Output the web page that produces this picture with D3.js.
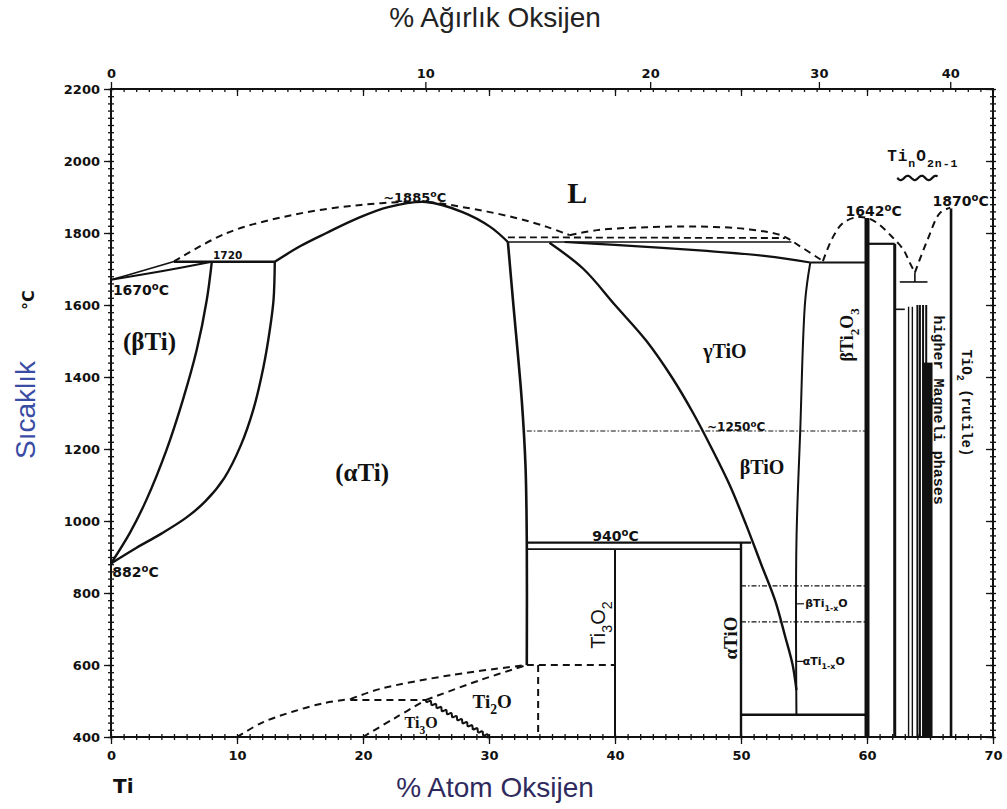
<!DOCTYPE html>
<html>
<head>
<meta charset="utf-8">
<script src="https://cdn.jsdelivr.net/npm/d3@7"></script>
<style>
body { margin: 0; background: #fff; }
svg { display: block; }
</style>
</head>
<body>
<script>
// axis ticks
var tempTicks = [400, 600, 800, 1000, 1200, 1400, 1600, 1800, 2000, 2200],
    atomTicks = [0, 10, 20, 30, 40, 50, 60, 70],
    weightTicks = [0, 10, 20, 30, 40];

// phase boundaries, [at% O, temperature C]
var betaLiquidus = [[0, 1670], [2.5, 1695], [5, 1721]],
    betaSolidus = [[0, 1670], [4, 1694], [8, 1720]],
    peritectic1720 = [[5, 1720], [13, 1720]],
    betaTransus = [[0, 882], [1.5, 967], [2.8, 1058], [4.4, 1197], [5.7, 1336], [6.8, 1475], [7.6, 1614], [8, 1720]],
    alphaTransus = [[0, 882], [2, 925], [4, 965], [6, 1010], [7.5, 1055], [9, 1120], [10.3, 1210], [11.3, 1310], [12.1, 1428], [12.6, 1530], [12.9, 1614], [13, 1720]],
    alphaSolidus = [[13, 1720], [15, 1763], [17.1, 1800], [19.5, 1840], [22, 1872], [25, 1886], [27.9, 1858], [30.1, 1817], [31.5, 1775]],
    alphaSolvus = [[31.5, 1775], [31.9, 1614], [32.6, 1336], [32.9, 1150], [33, 940], [33, 600]],
    line1775 = [[31.5, 1775], [54, 1775]],
    gammaSolidus = [[36, 1775], [40, 1767], [47, 1751], [52, 1736], [55.5, 1718]],
    eutectic1718 = [[55.5, 1718], [60, 1718]],
    gammaRight = [[55.5, 1718], [55.1, 1614], [54.7, 1250], [54.4, 940], [54.4, 462]],
    gammaLeft = [[34.8, 1773], [37.5, 1700], [40, 1600], [42.5, 1500], [44.5, 1400], [46.2, 1300], [47.7, 1200], [49.1, 1100], [50.4, 990], [51.6, 880], [52.7, 780], [53.5, 680], [54.1, 600], [54.4, 530]],
    line940 = [[33, 940], [50.8, 940]],
    line922 = [[33, 922], [50, 922]],
    ti3o2Line = [[40, 922], [40, 400]],
    alphaTiOLine = [[50, 940], [50, 400]],
    line462 = [[50, 462], [60, 462]],
    ti2o3Line = [[60, 1842], [60, 400]],
    ti3o5Top = [[60, 1770], [62.2, 1770]],
    ti3o5Line = [[62.2, 1770], [62.2, 400]],
    tio2Line = [[66.67, 1868], [66.67, 400]],
    eutectic1664 = [[62.6, 1664], [64.8, 1664]],
    eutecticStub = [[63.8, 1690], [63.8, 1664]],
    magneliStub = [[62.2, 1588], [63.0, 1588]];

var magneliThin = [63.3, 63.6],
    magneliThick = [64.0, 64.2, 64.45, 64.7],
    magneliBand = [64.4, 65.2];

var alphaLiquidus = [[5, 1721], [9.2, 1800], [14.4, 1850], [19.8, 1878], [25, 1886], [27.9, 1872], [31.9, 1844], [34.6, 1817], [36.4, 1794]],
    gammaLiquidus = [[36.4, 1794], [38.6, 1808], [42.5, 1816], [46.7, 1818], [50.7, 1810], [53.3, 1792], [54.6, 1765], [56.5, 1722]],
    miscibility = [[31.5, 1788], [53.5, 1786]],
    ti2o3Liquidus = [[56.5, 1722], [57.3, 1789], [58.1, 1828], [59.2, 1844], [60, 1842], [60.8, 1828], [62, 1789], [62.9, 1753], [63.4, 1717], [63.8, 1690]],
    tio2Liquidus = [[63.8, 1690], [64.8, 1781], [65.8, 1856], [66.6, 1870]],
    ti3oLow = [[10, 400], [12, 440], [14.4, 470], [17, 495], [19, 505]],
    ti2oUpper = [[19, 505], [21.3, 533], [27, 572], [33, 600]],
    ti3oTop = [[19, 503], [25, 503]],
    ti3oLeft = [[20, 400], [22.5, 452], [25, 503]],
    ti2oLeft = [[25, 503], [29.3, 558], [33, 600]],
    ti2oRight = [[33.9, 600], [33.9, 400]],
    line600 = [[33, 600], [40, 600]],
    ti3oRight = [[25, 503], [30, 400]];

var line1250 = [[33, 1250], [60, 1250]],
    line820 = [[50, 820], [60, 820]],
    line720 = [[50, 720], [60, 720]];

var width = 1007, height = 809,
    ink = "#111",
    tickFont = "'DejaVu Sans', sans-serif",
    serif = "'Liberation Serif', 'DejaVu Serif', serif",
    mono = "'Liberation Mono', 'DejaVu Sans Mono', monospace",
    sans = "'Liberation Sans', Arial, sans-serif";

var x = d3.scaleLinear().domain([0, 70]).range([111, 993]),
    y = d3.scaleLinear().domain([400, 2200]).range([737, 89]);

// weight % oxygen -> atom % oxygen
function wtToAt(w) {
  var o = w / 16, ti = (100 - w) / 47.87;
  return 100 * o / (o + ti);
}

var svg = d3.select("body").append("svg")
    .attr("width", width)
    .attr("height", height);

var straight = d3.line().x((d) => x(d[0])).y((d) => y(d[1])),
    smooth = d3.line().x((d) => x(d[0])).y((d) => y(d[1])).curve(d3.curveCatmullRom.alpha(0.5));

function draw(data, gen, w, dash) {
  svg.append("path")
      .attr("d", gen(data))
      .attr("fill", "none")
      .attr("stroke", ink)
      .attr("stroke-width", w)
      .attr("stroke-dasharray", dash || null)
      .attr("stroke-linejoin", "round");
}

// zigzag drawn along a straight segment, in pixels
function wavy(pts, amp, wl) {
  var x0 = x(pts[0][0]), y0 = y(pts[0][1]), x1 = x(pts[1][0]), y1 = y(pts[1][1]);
  var dx = x1 - x0, dy = y1 - y0, len = Math.hypot(dx, dy), n = Math.round(len);
  return d3.range(n + 1).map((i) => {
    var t = i / n, o = amp * Math.sin(t * len / wl * 2 * Math.PI);
    return [x0 + dx * t - dy / len * o, y0 + dy * t + dx / len * o];
  });
}

// axes
function axis(gen, pos, values, size, labels) {
  var g = svg.append("g")
      .attr("transform", pos)
      .call(gen.tickValues(values).tickSize(size).tickPadding(4).tickFormat(labels ? d3.format("d") : ""));
  g.select(".domain").remove();
  g.selectAll("line").attr("stroke", ink).attr("stroke-width", 1.3);
  g.selectAll("text")
      .attr("fill", ink)
      .style("font-family", tickFont)
      .style("font-weight", "bold")
      .style("font-size", "13px");
  return g;
}

var minorT = d3.range(400, 2201, 20),
    minorA = d3.range(0, 71, 1);

axis(d3.axisLeft(y), `translate(${x(0)},0)`, minorT, 3);
axis(d3.axisRight(y), `translate(${x(0)},0)`, minorT, 3);
axis(d3.axisLeft(y), `translate(${x(0)},0)`, tempTicks, 7, true);
axis(d3.axisLeft(y), `translate(${x(70)},0)`, minorT, 3);
axis(d3.axisRight(y), `translate(${x(70)},0)`, minorT, 3);
axis(d3.axisLeft(y), `translate(${x(70)},0)`, tempTicks, 7);

axis(d3.axisBottom(x), `translate(0,${y(400)})`, minorA, 3);
axis(d3.axisTop(x), `translate(0,${y(400)})`, minorA, 3);
axis(d3.axisBottom(x), `translate(0,${y(400)})`, atomTicks, 7, true)
    .selectAll("text").attr("dy", "0.9em");

axis(d3.axisBottom(x), `translate(0,${y(2200)})`, minorA, 3);
axis(d3.axisBottom(x), `translate(0,${y(2200)})`, atomTicks.slice(1, 7), 7);
var topAxis = axis(d3.axisTop(x), `translate(0,${y(2200)})`, weightTicks.map(wtToAt), 7, true);
topAxis.selectAll("text").text((d, i) => weightTicks[i]);

svg.append("rect")
    .attr("x", x(0)).attr("y", y(2200))
    .attr("width", x(70) - x(0)).attr("height", y(400) - y(2200))
    .attr("fill", "none").attr("stroke", ink).attr("stroke-width", 2);

// solid boundaries
draw(betaLiquidus, smooth, 1.6);
draw(betaSolidus, smooth, 2);
draw(peritectic1720, straight, 2.6);
draw(betaTransus, smooth, 2.4);
draw(alphaTransus, smooth, 2.4);
draw(alphaSolidus, smooth, 2.4);
draw(alphaSolvus, smooth, 2.6);
draw(line1775, straight, 1.4);
draw(gammaSolidus, smooth, 2.2);
draw(eutectic1718, straight, 2.2);
draw(gammaRight, smooth, 2);
draw(gammaLeft, smooth, 2.4);
draw(line940, straight, 2.4);
draw(line922, straight, 1.6);
draw(ti3o2Line, straight, 2);
draw(alphaTiOLine, straight, 2.4);
draw(line462, straight, 2.4);
draw(ti2o3Line, straight, 5);
draw(ti3o5Top, straight, 2.2);
draw(ti3o5Line, straight, 3);
draw(tio2Line, straight, 2.6);
draw(eutectic1664, straight, 1.6);
draw(eutecticStub, straight, 1.6);
draw(magneliStub, straight, 1.6);

magneliThin.forEach((a) => draw([[a, 1595], [a, 400]], straight, 1.4));
magneliThick.forEach((a) => draw([[a, 1600], [a, 400]], straight, 2));
svg.append("rect")
    .attr("x", x(magneliBand[0])).attr("y", y(1440))
    .attr("width", x(magneliBand[1]) - x(magneliBand[0]))
    .attr("height", y(400) - y(1440))
    .attr("fill", ink);

// dashed boundaries
[alphaLiquidus, gammaLiquidus, ti2o3Liquidus, tio2Liquidus, ti3oLow, ti2oUpper, ti3oLeft, ti2oLeft]
    .forEach((d) => draw(d, smooth, 2, "7,5"));
draw(miscibility, straight, 1.8, "7,4");
[ti3oTop, ti2oRight, line600].forEach((d) => draw(d, straight, 2, "7,5"));
draw(wavy(ti3oRight, 1.6, 6), d3.line(), 2);

// dash-dot isotherms
[line1250, line820, line720].forEach((d) => draw(d, straight, 1.2, "5,2,1.5,2"));

// leaders
draw([[54.4, 770], [55, 770]], straight, 1.2);
draw([[54.4, 610], [55, 610]], straight, 1.2);

// labels
function rich(sel, parts, size) {
  var shift = 0;
  parts.forEach((p) => {
    var s = p[1] || 0;
    sel.append("tspan")
        .attr("dy", (s - shift) * size * 0.35)
        .attr("font-size", s ? size * 0.72 : size)
        .text(p[0]);
    shift = s;
  });
  return sel;
}

function label(parts, at, T, size, font, opts) {
  opts = opts || {};
  var t = svg.append("text")
      .attr("fill", ink)
      .attr("font-family", font)
      .attr("font-weight", opts.weight || "bold")
      .attr("font-size", size)
      .attr("text-anchor", opts.anchor || "start")
      .attr("letter-spacing", opts.spacing || null);
  if (opts.rotate) t.attr("transform", `translate(${x(at)},${y(T)}) rotate(${opts.rotate})`);
  else t.attr("x", x(at)).attr("y", y(T));
  return rich(t, parts, size);
}

function deg(v) { return [[v], ["o", -1], ["C"]]; }

label([["~"]].concat(deg("1885")), 21.6, 1886, 13, tickFont);
label([["L"]], 37, 1883, 30, serif, {anchor: "middle"});
label([["1720"]], 8.1, 1728, 10.5, tickFont);
label(deg("1670"), 0.15, 1628, 14, tickFont);
label(deg("882"), 0.1, 844, 14, tickFont);
label(deg("940"), 38.2, 944, 14, tickFont);
label([["~"]].concat(deg("1250")), 47.3, 1250, 12, tickFont);
label(deg("1642"), 58.3, 1847, 14, tickFont);
label(deg("1870"), 65.2, 1875, 14, tickFont);
label([["(βTi)"]], 0.95, 1475, 25, serif);
label([["(αTi)"]], 17.8, 1111, 25, serif);
label([["γTiO"]], 47, 1453, 20, serif);
label([["βTiO"]], 49.9, 1131, 20, serif);
label([["Ti"], ["2", 1], ["O"]], 28.7, 481, 19, serif);
label([["Ti"], ["3", 1], ["O"]], 23.3, 425, 16, serif);
label([["Ti"], ["3", 1], ["O"], ["2", 1]], 39.2, 711, 20, sans, {weight: "normal", anchor: "middle", rotate: -90});
label([["αTiO"]], 49.7, 675, 19, serif, {anchor: "middle", rotate: -90});
label([["βTi"], ["2", 1], ["O"], ["3", 1]], 58.9, 1517, 18, serif, {anchor: "middle", rotate: -90});
label([["βTi"], ["1-x", 1], ["O"]], 55.1, 760, 11, tickFont);
label([["αTi"], ["1-x", 1], ["O"]], 54.9, 600, 11, tickFont);
label([["Ti"], ["n", 1], ["O"], ["2n-1", 1]], 61.6, 2000, 16, mono, {spacing: 1});
label([["higher Magneli phases"]], 65.35, 1308, 15, mono, {anchor: "middle", rotate: 90});
label([["TiO"], ["2", 1], [" (rutile)"]], 67.5, 1328, 14, mono, {anchor: "middle", rotate: 90});
draw(wavy([[62.4, 1953], [65.6, 1953]], 2.2, 14), d3.line(), 2.2);

// titles
svg.append("text")
    .attr("x", 495).attr("y", 27)
    .attr("text-anchor", "middle")
    .attr("font-family", sans)
    .attr("font-size", 28)
    .attr("fill", "#222")
    .text("% Ağırlık Oksijen");

svg.append("text")
    .attr("x", 495).attr("y", 797)
    .attr("text-anchor", "middle")
    .attr("font-family", sans)
    .attr("font-size", 28)
    .attr("fill", "#2f2a5e")
    .text("% Atom Oksijen");

svg.append("text")
    .attr("transform", "translate(35,410) rotate(-90)")
    .attr("text-anchor", "middle")
    .attr("font-family", sans)
    .attr("font-size", 28)
    .attr("fill", "#3a4ca4")
    .text("Sıcaklık");

svg.append("text")
    .attr("transform", "translate(34,300) rotate(-90)")
    .attr("text-anchor", "middle")
    .attr("font-family", "'DejaVu Sans', sans-serif")
    .attr("font-weight", "bold")
    .attr("font-size", 16)
    .attr("fill", ink)
    .text("°C");

svg.append("text")
    .attr("x", 113).attr("y", 793)
    .attr("font-family", "'DejaVu Sans', sans-serif")
    .attr("font-weight", "bold")
    .attr("font-size", 20)
    .attr("fill", ink)
    .text("Ti");
</script>
</body>
</html>
